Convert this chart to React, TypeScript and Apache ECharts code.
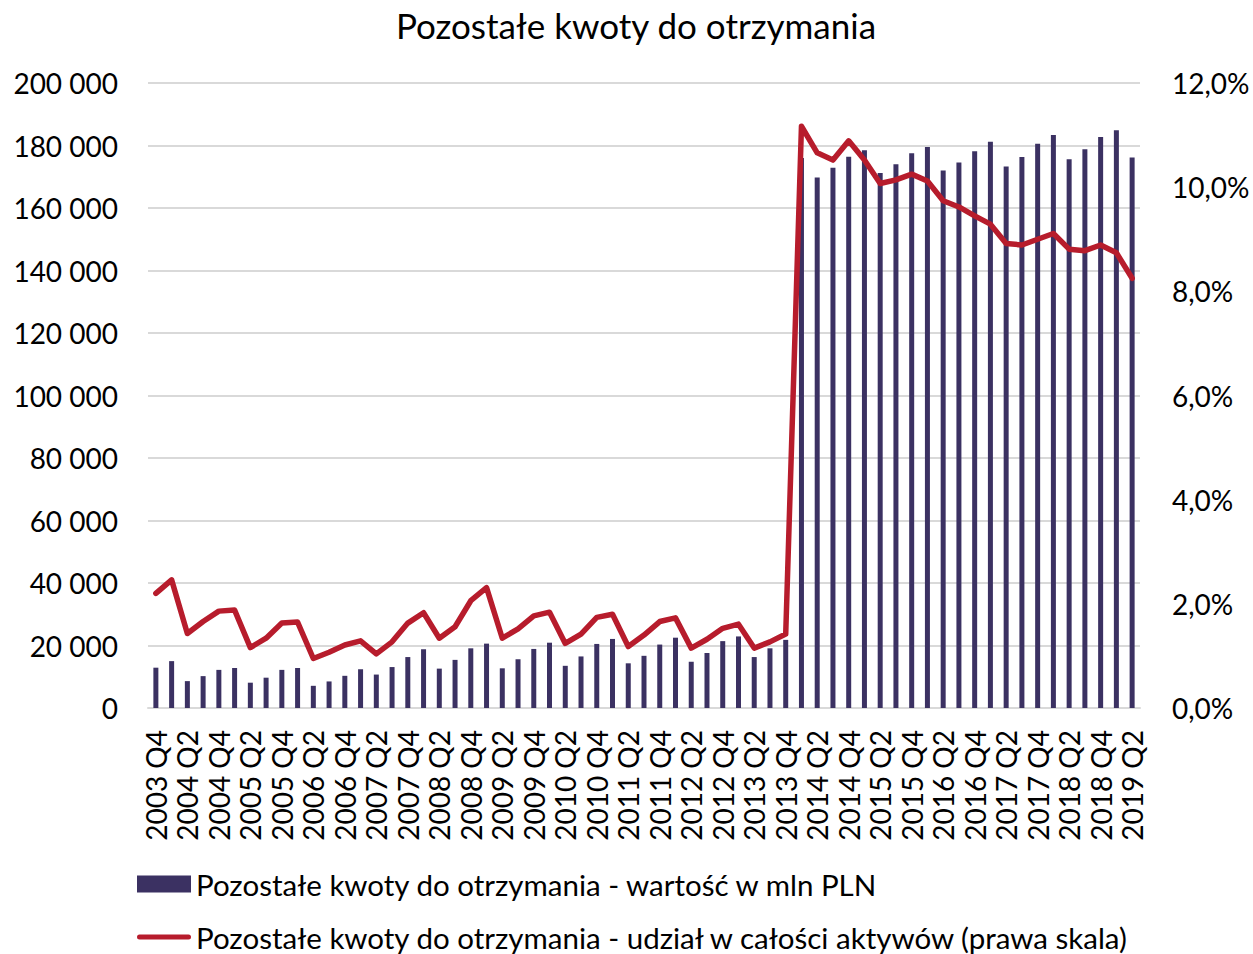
import React, { useEffect, useRef } from "react";
import * as echarts from "echarts";

const categories = [
  "2003 Q4",
  "2004 Q1", "2004 Q2", "2004 Q3", "2004 Q4",
  "2005 Q1", "2005 Q2", "2005 Q3", "2005 Q4",
  "2006 Q1", "2006 Q2", "2006 Q3", "2006 Q4",
  "2007 Q1", "2007 Q2", "2007 Q3", "2007 Q4",
  "2008 Q1", "2008 Q2", "2008 Q3", "2008 Q4",
  "2009 Q1", "2009 Q2", "2009 Q3", "2009 Q4",
  "2010 Q1", "2010 Q2", "2010 Q3", "2010 Q4",
  "2011 Q1", "2011 Q2", "2011 Q3", "2011 Q4",
  "2012 Q1", "2012 Q2", "2012 Q3", "2012 Q4",
  "2013 Q1", "2013 Q2", "2013 Q3", "2013 Q4",
  "2014 Q1", "2014 Q2", "2014 Q3", "2014 Q4",
  "2015 Q1", "2015 Q2", "2015 Q3", "2015 Q4",
  "2016 Q1", "2016 Q2", "2016 Q3", "2016 Q4",
  "2017 Q1", "2017 Q2", "2017 Q3", "2017 Q4",
  "2018 Q1", "2018 Q2", "2018 Q3", "2018 Q4",
  "2019 Q1", "2019 Q2",
];

const valuesMlnPln = [
  12900, 15000, 8600, 10200, 12200, 12800, 8100, 9700, 12200, 12800,
  7100, 8500, 10300, 12400, 10700, 13100, 16300, 18800, 12600, 15400,
  19100, 20600, 12700, 15600, 18900, 20900, 13500, 16500, 20500, 22100,
  14300, 16700, 20300, 22500, 14800, 17600, 21400, 22900, 16300, 19100,
  21800, 176000, 169800, 172900, 176400, 178500, 171200, 174000, 177500, 179500,
  172000, 174600, 178200, 181200, 173300, 176300, 180600, 183400, 175600, 178800,
  182700, 184900, 176200,
];

const sharePct = [
  2.2, 2.46, 1.43, 1.66, 1.86, 1.88, 1.16, 1.34, 1.63, 1.65,
  0.95, 1.07, 1.21, 1.29, 1.04, 1.27, 1.63, 1.83, 1.34, 1.56,
  2.06, 2.31, 1.34, 1.52, 1.77, 1.84, 1.24, 1.42, 1.74, 1.8,
  1.18, 1.4, 1.66, 1.73, 1.15, 1.32, 1.53, 1.61, 1.15, 1.27,
  1.42, 11.17, 10.66, 10.52, 10.89, 10.52, 10.07, 10.14, 10.25, 10.12,
  9.74, 9.62, 9.45, 9.29, 8.92, 8.89, 9.0, 9.11, 8.81, 8.78,
  8.89, 8.74, 8.25,
];

const titleText = "Pozostałe kwoty do otrzymania";
const barName = "Pozostałe kwoty do otrzymania - wartość w mln PLN";
const lineName = "Pozostałe kwoty do otrzymania - udział w całości aktywów (prawa skala)";

const FONT = "Lato";
const BAR_COLOR = "#3b3162";
const LINE_COLOR = "#b71c2c";

export default function App() {
  const ref = useRef<HTMLDivElement>(null);

  useEffect(() => {
    if (!ref.current) return;
    const chart = echarts.init(ref.current, undefined, { renderer: "svg" });
    const legendText = { fontFamily: FONT, fontSize: 29.5, color: "#000", lineHeight: 34 };
    chart.setOption({
      animation: false,
      backgroundColor: "#ffffff",
      textStyle: { fontFamily: FONT },
      title: {
        text: titleText,
        left: 631,
        textAlign: "center",
        top: 2,
        textStyle: { fontFamily: FONT, fontSize: 35, fontWeight: "normal", color: "#000" },
      },
      legend: [
        {
          left: 137,
          top: 867,
          padding: 0,
          itemWidth: 54,
          itemHeight: 17,
          textStyle: legendText,
          data: [{ name: barName, icon: "rect" }],
        },
        {
          left: 137,
          top: 920,
          padding: 0,
          itemWidth: 54,
          itemHeight: 17,
          textStyle: legendText,
          data: [
            {
              name: lineName,
              icon: "path://M2.5,0 H51.5 A2.5,2.5 0 0 1 51.5,5 H2.5 A2.5,2.5 0 0 1 2.5,0 Z",
            },
          ],
        },
      ],
      grid: { left: 148, right: 113, top: 83, bottom: 246, containLabel: false },
      xAxis: {
        type: "category",
        data: categories,
        boundaryGap: true,
        axisLine: { show: true, lineStyle: { color: "#d9d9d9", width: 2 } },
        axisTick: { show: false },
        axisLabel: {
          interval: 1,
          rotate: 90,
          margin: 22,
          fontFamily: FONT,
          fontSize: 28,
          color: "#000",
        },
      },
      yAxis: [
        {
          type: "value",
          min: 0,
          max: 200000,
          interval: 20000,
          axisLine: { show: false },
          axisTick: { show: false },
          splitLine: { lineStyle: { color: "#d9d9d9", width: 2 } },
          axisLabel: {
            margin: 30,
            fontFamily: FONT,
            fontSize: 28,
            color: "#000",
            formatter: (v: number) =>
              String(Math.round(v)).replace(/\B(?=(\d{3})+(?!\d))/g, " "),
          },
        },
        {
          type: "value",
          min: 0,
          max: 12,
          interval: 2,
          position: "right",
          axisLine: { show: false },
          axisTick: { show: false },
          splitLine: { show: false },
          axisLabel: {
            margin: 32,
            fontFamily: FONT,
            fontSize: 28,
            color: "#000",
            formatter: (v: number) => v.toFixed(1).replace(".", ",") + "%",
          },
        },
      ],
      series: [
        {
          name: barName,
          type: "bar",
          data: valuesMlnPln,
          yAxisIndex: 0,
          barWidth: 5,
          itemStyle: { color: BAR_COLOR },
        },
        {
          name: lineName,
          type: "line",
          data: sharePct,
          yAxisIndex: 1,
          symbol: "none",
          showSymbol: false,
          lineStyle: { color: LINE_COLOR, width: 5.5, join: "round", cap: "round" },
          itemStyle: { color: LINE_COLOR },
          z: 3,
        },
      ],
    });
    return () => chart.dispose();
  }, []);

  return (
    <div
      ref={ref}
      style={{ position: "fixed", left: 0, top: 0, width: 1253, height: 954 }}
    />
  );
}
